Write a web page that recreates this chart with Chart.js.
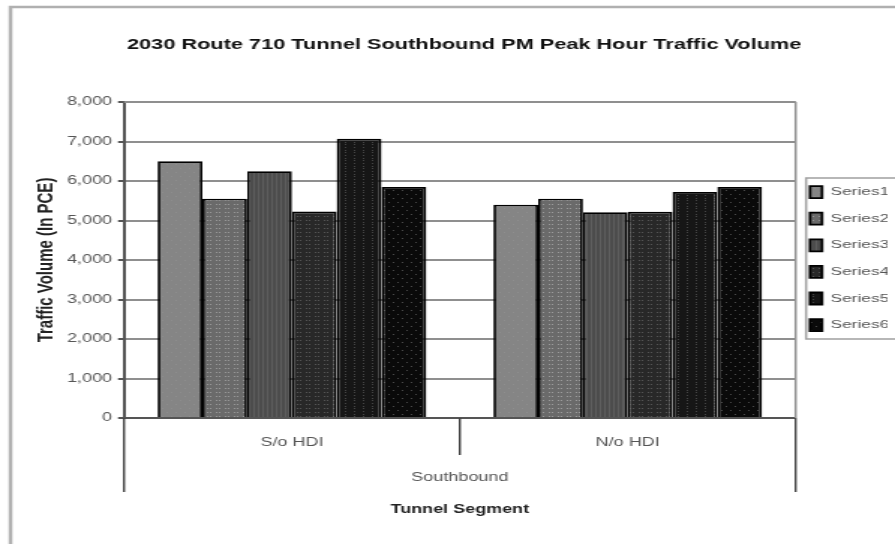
<!DOCTYPE html>
<html>
<head>
<meta charset="utf-8">
<script src="https://cdn.jsdelivr.net/npm/chart.js@4"></script>
<style>
  html, body { margin: 0; padding: 0; background: #fff; }
</style>
</head>
<body>
<!-- el original tiene texto ancho: se dibuja mas estrecho y se estira a 895px -->
<canvas id="chart" width="597" height="544" style="display:block;width:895px;height:544px"></canvas>
<script>
// datos
const segments = ['S/o HDI', 'N/o HDI'];
const groupLabel = 'Southbound';
const seriesNames = ['Series1', 'Series2', 'Series3', 'Series4', 'Series5', 'Series6'];
const series1 = [6500, 5400];
const series2 = [5550, 5550];
const series3 = [6250, 5210];
const series4 = [5230, 5220];
const series5 = [7070, 5720];
const series6 = [5850, 5850];
const yTicks = [0, 1000, 2000, 3000, 4000, 5000, 6000, 7000, 8000];

const FONT = "'Liberation Sans', Arial, sans-serif";

// tramas en gris, como el grafico original en blanco y negro
function makePattern(base, dot, kind) {
    const c = document.createElement('canvas');
    c.width = 6; c.height = 8;
    const g = c.getContext('2d');
    g.fillStyle = base;
    g.fillRect(0, 0, 6, 8);
    g.fillStyle = dot;
    if (kind === 'dots') {
        g.fillRect(0, 0, 1, 1); g.fillRect(3, 4, 1, 1);
    } else if (kind === 'grid') {
        g.fillRect(0, 0, 1, 1); g.fillRect(2, 0, 1, 1); g.fillRect(0, 4, 1, 1); g.fillRect(2, 4, 1, 1);
    } else if (kind === 'vlines') {
        g.fillRect(1, 0, 1, 8); g.fillRect(4, 0, 1, 8);
    } else if (kind === 'vdots') {
        g.fillRect(2, 0, 1, 1); g.fillRect(2, 3, 1, 1); g.fillRect(2, 6, 1, 1);
    } else if (kind === 'sparse') {
        g.fillRect(1, 2, 1, 1); g.fillRect(4, 6, 1, 1);
    }
    return document.createElement('canvas').getContext('2d').createPattern(c, 'repeat');
}

const fills = [
    makePattern('#858585', '#8e8e8e', 'dots'),
    makePattern('#6a6a6a', '#9a9a9a', 'grid'),
    makePattern('#4c4c4c', '#5e5e5e', 'vlines'),
    makePattern('#282828', '#555555', 'grid'),
    makePattern('#161616', '#454545', 'vdots'),
    makePattern('#0a0a0a', '#4a4a4a', 'sparse')
];
const values = [series1, series2, series3, series4, series5, series6];

// lineas extra: borde exterior, caja del area, marcas del eje x, caja de la leyenda
const extras = {
    id: 'extras',
    afterLayout(chart) {
        // la leyenda va pegada al area del grafico
        chart.legend.left -= 5;
        chart.legend.right -= 5;
    },
    beforeDatasetsDraw(chart) {
        const ctx = chart.ctx, a = chart.chartArea;
        ctx.save();
        ctx.strokeStyle = '#8f8f8f';
        ctx.lineWidth = 2;
        ctx.beginPath();
        ctx.moveTo(a.left, a.top);
        ctx.lineTo(a.right, a.top);
        ctx.stroke();
        ctx.lineWidth = 1.5;
        ctx.beginPath();
        ctx.moveTo(a.right, a.top);
        ctx.lineTo(a.right, a.bottom);
        ctx.stroke();
        ctx.restore();
    },
    afterDraw(chart) {
        const ctx = chart.ctx, x = chart.scales.x, a = chart.chartArea;
        ctx.save();
        // borde del grafico
        ctx.strokeStyle = '#b0b0b0';
        ctx.lineWidth = 2.5;
        ctx.beginPath();
        ctx.moveTo(7, 544);
        ctx.lineTo(7, 7);
        ctx.lineTo(600, 7);
        ctx.stroke();

        ctx.strokeStyle = '#444';
        ctx.lineWidth = 1.4;
        const mid = (x.getPixelForTick(0) + x.getPixelForTick(1)) / 2;
        ctx.beginPath();
        ctx.moveTo(mid, a.bottom); ctx.lineTo(mid, a.bottom + 37);
        ctx.moveTo(x.left, a.bottom); ctx.lineTo(x.left, a.bottom + 74);
        ctx.moveTo(x.right, a.bottom); ctx.lineTo(x.right, a.bottom + 74);
        ctx.stroke();

        ctx.fillStyle = '#555';
        ctx.font = '12px ' + FONT;
        ctx.textAlign = 'center';
        ctx.textBaseline = 'middle';
        ctx.fillText(groupLabel, (x.left + x.right) / 2, a.bottom + 60);

        const hb = chart.legend.legendHitBoxes;
        if (hb && hb.length) {
            const first = hb[0], last = hb[hb.length - 1];
            const lx = chart.legend.left + 12;
            ctx.strokeStyle = '#a0a0a0';
            ctx.lineWidth = 1.5;
            ctx.beginPath();
            ctx.moveTo(600, first.top - 8);
            ctx.lineTo(lx, first.top - 8);
            ctx.lineTo(lx, last.top + last.height + 8);
            ctx.lineTo(600, last.top + last.height + 8);
            ctx.stroke();
        }
        ctx.restore();
    }
};

new Chart(document.getElementById('chart'), {
    type: 'bar',
    data: {
        labels: segments,
        datasets: seriesNames.map((name, i) => ({
            label: name,
            data: values[i],
            backgroundColor: fills[i],
            borderColor: '#000',
            borderWidth: 1.8,
            categoryPercentage: 0.8,
            barPercentage: 1.0
        }))
    },
    options: {
        responsive: false,
        animation: false,
        layout: { padding: { left: 22.3, right: 0, top: 0, bottom: 26.8 } },
        plugins: {
            title: {
                display: true,
                text: '2030 Route 710 Tunnel Southbound PM Peak Hour Traffic Volume',
                color: '#111',
                font: { family: FONT, size: 14.5, weight: 'bold' },
                padding: { top: 36.3, bottom: 48.3 }
            },
            legend: {
                position: 'right',
                align: 'center',
                maxWidth: 66.3,
                labels: {
                    color: '#555',
                    font: { family: FONT, size: 11.5 },
                    boxWidth: 8,
                    boxHeight: 12,
                    padding: 14.6
                }
            },
            tooltip: { enabled: false }
        },
        scales: {
            x: {
                grid: { display: false, drawTicks: false },
                border: { display: true, color: '#555', width: 2 },
                ticks: { color: '#555', font: { family: FONT, size: 12 }, padding: 17.8 },
                title: {
                    display: true,
                    text: 'Tunnel Segment',
                    color: '#222',
                    font: { family: FONT, size: 12, weight: 'bold' },
                    padding: { top: 34.8, bottom: 0 }
                }
            },
            y: {
                min: 0,
                max: 8000,
                afterBuildTicks: (axis) => { axis.ticks = yTicks.map(v => ({ value: v })); },
                grid: { color: '#8f8f8f', lineWidth: 2, tickColor: '#555', tickLength: 4 },
                border: { display: true, color: '#555', width: 2 },
                ticks: { color: '#555', font: { family: FONT, size: 12 }, padding: 4 },
                title: {
                    display: true,
                    text: 'Traffic Volume (In PCE)',
                    color: '#222',
                    font: { family: FONT, size: 15, weight: 'bold' },
                    padding: { top: 0, bottom: 0.4 }
                }
            }
        }
    },
    plugins: [extras]
});
</script>
</body>
</html>
